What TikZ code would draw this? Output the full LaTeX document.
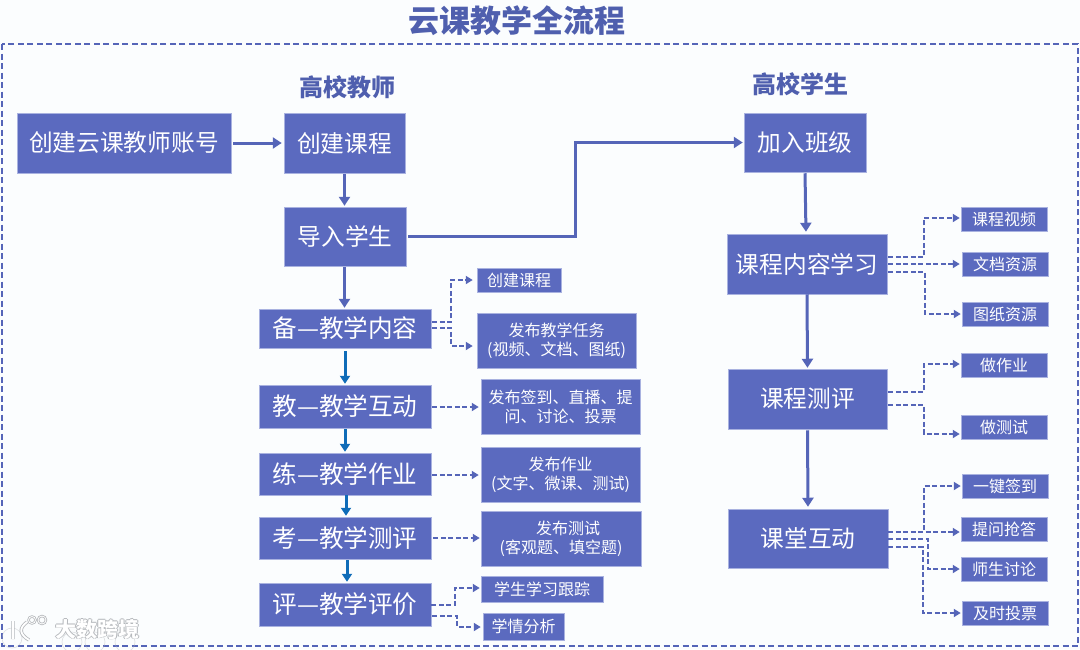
\documentclass[tikz,border=0pt]{standalone}
\usepackage{fontspec}
\setmainfont{Noto Sans CJK SC}
\usetikzlibrary{arrows.meta,calc}
\definecolor{boxc}{HTML}{5B6ABF}
\definecolor{boxe}{HTML}{A9B2E0}
\definecolor{linec}{HTML}{5565B8}
\definecolor{blueline}{HTML}{0F6CB8}
\definecolor{titlec}{HTML}{4F5FAE}
\definecolor{bgc}{HTML}{FBFDFE}
\definecolor{wm}{HTML}{B5B8BC}
\tikzset{
  x=1pt,y=-1pt,
  boxbase/.style={fill=boxc,draw=boxe,line width=0.5pt,text=white,inner sep=0pt,align=center},
  bigbox/.style={boxbase,font=\fontsize{23.7}{28}\selectfont},
  rowbox/.style={boxbase,font=\fontsize{24.6}{28}\selectfont},
  smallbox/.style={boxbase,font=\fontsize{16}{19}\selectfont},
  heading/.style={text=titlec,font=\fontsize{24}{28}\selectfont\bfseries,inner sep=0pt},
  solidarrow/.style={draw=linec,line width=3pt,-{Triangle[length=9pt,width=11pt]}},
  bluearrow/.style={draw=blueline,line width=3pt,-{Triangle[length=8pt,width=10pt]}},
  dasharrow/.style={draw=linec,line width=2pt,dash pattern=on 5pt off 2.5pt,-{Triangle[length=7pt,width=8pt]}},
  wmtext/.style={font=\fontsize{21}{24}\selectfont\bfseries,inner sep=0pt}
}
\newcommand{\bx}[7]{\node[#1,minimum width=#5-#3,minimum height=#6-#4] (#2) at ({(#3+#5)/2},{(#4+#6)/2}) {#7};}
\newcommand{\tl}[1]{\raisebox{-1.5pt}{#1}}
\begin{document}
\begin{tikzpicture}
\useasboundingbox[fill=bgc] (0,0) rectangle (1080,649);
% frame and title
\draw[linec,line width=1.8pt,dash pattern=on 6pt off 3.5pt] (2,44) rectangle (1078,646);
\node[text=titlec,font=\fontsize{31}{36}\selectfont\bfseries,inner sep=0pt] (title) at (516.5,21) {云课教学全流程};
\node[heading] (teacher) at (347,87) {高校教师};
\node[heading] (student) at (800,84) {高校学生};
% left column
\bx{bigbox}{acct}{17}{113}{231}{173}{创建云课教师账号}
\bx{bigbox}{course}{284}{113}{405}{173}{创建课程}
\bx{bigbox}{import}{284}{207}{406}{266}{导入学生}
\bx{rowbox}{bei}{259}{309}{431}{348}{备—教学内容}
\bx{rowbox}{jiao}{259}{385}{431}{428}{教—教学互动}
\bx{rowbox}{lian}{259}{453}{431}{495}{练—教学作业}
\bx{rowbox}{kao}{259}{517}{431}{559}{考—教学测评}
\bx{rowbox}{ping}{259}{583}{431}{626}{评—教学评价}
\bx{smallbox}{s1}{477}{268}{561}{292}{创建课程}
\bx{smallbox}{s2}{477}{313}{636}{368}{\tl{发布教学任务}\\\tl{(视频、文档、图纸)}}
\bx{smallbox}{s3}{481}{379}{640}{434}{\tl{发布签到、直播、提}\\\tl{问、讨论、投票}}
\bx{smallbox}{s4}{481}{447}{640}{502}{\tl{发布作业}\\\tl{(文字、微课、测试)}}
\bx{smallbox}{s5}{481}{511}{641}{566}{\hspace*{14pt}\tl{发布测试}\\\tl{(客观题、填空题)}}
\bx{smallbox}{s6}{481}{576}{603}{602}{学生学习跟踪}
\bx{smallbox}{s7}{483}{613}{564}{640}{学情分析}
% right column
\bx{bigbox}{join}{744}{113}{866}{172}{加入班级}
\bx{bigbox}{learn}{727}{234}{887}{294}{课程内容学习}
\bx{bigbox}{test}{728}{369}{887}{429}{课程测评}
\bx{bigbox}{inter}{728}{509}{888}{568}{课堂互动}
\bx{smallbox}{r1}{961}{207}{1047}{231}{课程视频}
\bx{smallbox}{r2}{962}{252}{1048}{276}{文档资源}
\bx{smallbox}{r3}{962}{302}{1048}{326}{图纸资源}
\bx{smallbox}{r4}{961}{353}{1047}{377}{做作业}
\bx{smallbox}{r5}{961}{415}{1047}{439}{做测试}
\bx{smallbox}{r6}{962}{474}{1048}{498}{一键签到}
\bx{smallbox}{r7}{961}{517}{1047}{541}{提问抢答}
\bx{smallbox}{r8}{961}{557}{1047}{581}{师生讨论}
\bx{smallbox}{r9}{962}{601}{1048}{625}{及时投票}
% solid connectors
\draw[solidarrow,shorten <=2pt,shorten >=2pt] (acct) -- (course);
\draw[solidarrow,shorten <=1pt,shorten >=1pt] (course.south -| 344.5,0) -- (import.north -| 344.5,0);
\draw[solidarrow,shorten <=1pt,shorten >=1pt] (import.south -| 344.5,0) -- (bei.north -| 344.5,0);
\draw[solidarrow,shorten <=2pt,shorten >=1pt] (import.east) -- (import.east -| 575,0) |- (join.west);
\draw[solidarrow,shorten <=1pt,shorten >=2pt] (join.south) -- (learn.north -| 806,0);
\draw[solidarrow,shorten >=1pt] (learn.south) -- (test.north);
\draw[solidarrow,shorten <=1pt,shorten >=2pt] (test.south) -- (inter.north);
% blue connectors
\draw[bluearrow,shorten <=3pt,shorten >=1pt] (bei.south -| 345,0) -- (jiao.north -| 345,0);
\draw[bluearrow,shorten <=1pt,shorten >=1pt] (jiao.south -| 345,0) -- (lian.north -| 345,0);
\draw[bluearrow,shorten >=1pt] (lian.south -| 346,0) -- (kao.north -| 346,0);
\draw[bluearrow,shorten <=1pt,shorten >=1pt] (kao.south -| 347,0) -- (ping.north -| 347,0);
% dashed connectors, teacher side
\draw[dasharrow,shorten <=1pt,shorten >=4pt] (bei.east |- 0,322) -| (451,280) -- (s1.west |- 0,280);
\draw[dasharrow,shorten <=1pt,shorten >=4pt] (bei.east |- 0,328) -| (451,346) -- (s2.west |- 0,346);
\draw[dasharrow,shorten <=1pt,shorten >=2pt] (jiao.east |- 0,407) -- (s3.west |- 0,407);
\draw[dasharrow,shorten <=1pt,shorten >=2pt] (lian.east |- 0,475) -- (s4.west |- 0,475);
\draw[dasharrow,shorten <=2pt,shorten >=1pt] (kao.east |- 0,538) -- (s5.west |- 0,538);
\draw[dasharrow,shorten >=1pt] (ping.east |- 0,605) -| (455,588) -- (s6.west |- 0,588);
\draw[dasharrow,shorten <=1pt,shorten >=2pt] (ping.east |- 0,616) -| (457,627) -- (s7.west |- 0,627);
% dashed connectors, student side
\draw[dasharrow,shorten <=1pt,shorten >=1pt] (learn.east |- 0,257) -| (924,218) -- (r1.west |- 0,218);
\draw[dasharrow,shorten <=1pt,shorten >=2pt] (learn.east |- 0,264) -- (r2.west |- 0,264);
\draw[dasharrow,shorten <=1pt,shorten >=1pt] (learn.east |- 0,272) -| (925,314) -- (r3.west |- 0,314);
\draw[dasharrow,shorten <=1pt,shorten >=1pt] (test.east |- 0,392) -| (924,364) -- (r4.west |- 0,364);
\draw[dasharrow,shorten <=1pt,shorten >=1pt] (test.east |- 0,405) -| (924,434) -- (r5.west |- 0,434);
\draw[dasharrow,shorten >=1pt] (inter.east |- 0,532) -| (924,486) -- (r6.west |- 0,486);
\draw[dasharrow,shorten >=1pt] (inter.east |- 0,532) -- (r7.west |- 0,532);
\draw[dasharrow,shorten >=1pt] (inter.east |- 0,539) -| (928,569) -- (r8.west |- 0,569);
\draw[dasharrow,shorten >=1pt] (inter.east |- 0,547) -| (923,613) -- (r9.west |- 0,613);
% watermark
\draw[wm,opacity=.45,line width=.6pt] (12,638) circle (10) (72,642) circle (10) (95,642) circle (10) (125,642) circle (10);
\foreach \wc/\wd in {wm/3.4,white/1.8}{
  \draw[\wc,line width=\wd pt] (13,621) -- (13,639) (27,622) .. controls (19,628) and (19,634) .. (29,640);
  \draw[\wc,line width=\wd pt-1pt] (32,620) circle (3.5) (42,620) circle (4);
}
\foreach \dx/\dy in {-.8/0,.8/0,0/-.8,0/.8}{
  \node[wmtext,text=wm] at ($(97.5,629)+(\dx,\dy)$) {大数跨境};
}
\node[wmtext,text=white] (wmark) at (97.5,629) {大数跨境};
\end{tikzpicture}
\end{document}
